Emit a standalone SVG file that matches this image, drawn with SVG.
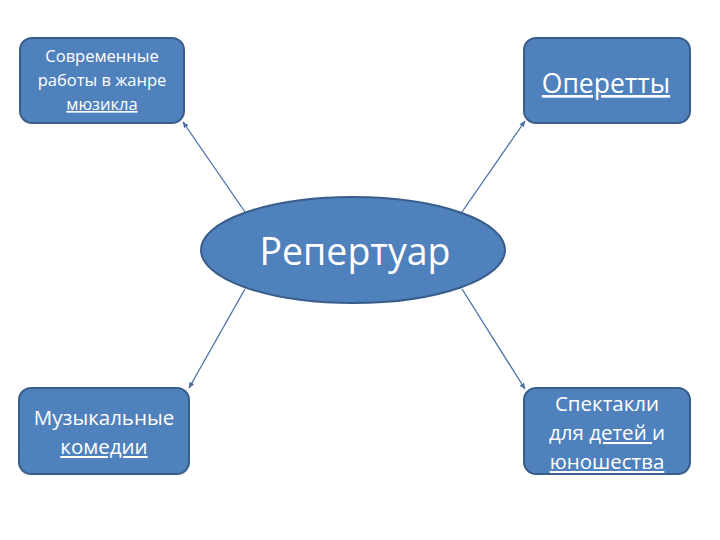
<svg xmlns="http://www.w3.org/2000/svg" width="720" height="540" viewBox="0 0 720 540">
<defs>
<marker id="ah" viewBox="0 0 10 10" refX="9" refY="5" markerWidth="5" markerHeight="5" orient="auto">
<path d="M0,1 L10,5 L0,9 z" fill="#4A6FA5"/>
</marker>
<style>
.box{fill:#4F81BD;stroke:#385D8A;stroke-width:2}
.t{fill:#ffffff;font-family:"Open Sans","Liberation Sans",sans-serif;text-anchor:middle}
.u{text-decoration:underline}
.c{stroke:#4A6FA5;stroke-width:1.3;fill:none;marker-end:url(#ah)}
</style>
</defs>
<rect width="720" height="540" fill="#ffffff"/>
<g id="connectors">
<line class="c" x1="245" y1="212" x2="183" y2="122"/>
<line class="c" x1="462" y1="212" x2="525" y2="121"/>
<line class="c" x1="245" y1="289" x2="189" y2="388"/>
<line class="c" x1="462" y1="289" x2="525" y2="389"/>
</g>
<g id="center">
<ellipse class="box" cx="353" cy="250" rx="152" ry="53"/>
<text class="t" x="355" y="265" font-size="37.5">Репертуар</text>
</g>
<g id="n-musicals">
<rect class="box" x="20" y="38" width="164" height="85" rx="12"/>
<text class="t" font-size="16.5"><tspan x="102" y="62">Современные</tspan><tspan x="102" y="86">работы в жанре</tspan><tspan x="102" y="110" class="u">мюзикла</tspan></text>
</g>
<g id="n-operettas">
<rect class="box" x="524" y="38" width="166" height="85" rx="12"/>
<text class="t u" x="606" y="93" font-size="26.5">Оперетты</text>
</g>
<g id="n-comedies">
<rect class="box" x="19" y="388" width="170" height="86" rx="12"/>
<text class="t" font-size="20.5"><tspan x="104" y="425">Музыкальные</tspan><tspan x="104" y="454" class="u">комедии</tspan></text>
</g>
<g id="n-children">
<rect class="box" x="524" y="388" width="166" height="86" rx="12"/>
<text class="t" font-size="20.5"><tspan x="607" y="411">Спектакли</tspan><tspan x="607" y="440">для <tspan class="u">детей </tspan>и</tspan><tspan x="607" y="469" class="u">юношества</tspan></text>
</g>
</svg>
